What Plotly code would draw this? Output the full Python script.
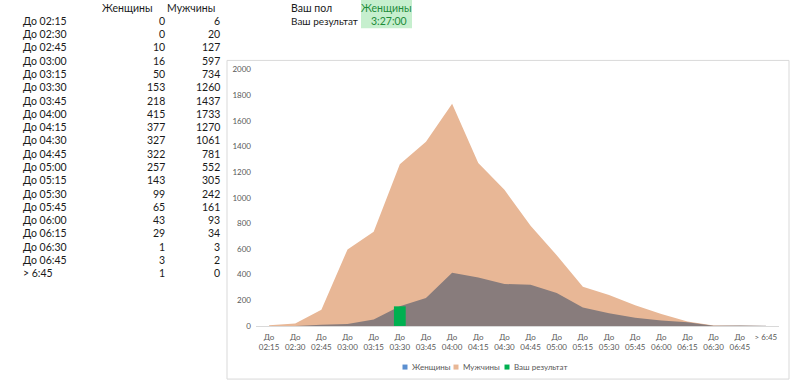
import plotly.graph_objects as go

categories = ["До 02:15", "До 02:30", "До 02:45", "До 03:00", "До 03:15", "До 03:30",
              "До 03:45", "До 04:00", "До 04:15", "До 04:30", "До 04:45", "До 05:00",
              "До 05:15", "До 05:30", "До 05:45", "До 06:00", "До 06:15", "До 06:30",
              "До 06:45", "> 6:45"]
women = [0, 0, 10, 16, 50, 153, 218, 415, 377, 327, 322, 257, 143, 99, 65, 43, 29, 1, 3, 1]
men = [6, 20, 127, 597, 734, 1260, 1437, 1733, 1270, 1061, 781, 552, 305, 242, 161, 93, 34, 3, 2, 0]
result_category = "До 03:30"
result_value = 153
your_gender = "Женщины"
your_result = "3:27:00"
legend_names = ["Женщины", "Мужчины", "Ваш результат"]

tick_text = [c.replace("До ", "До<br>") if c.startswith("До") else c for c in categories]

W, H = 800, 385
# empirical vertical correction for how the page is photographed
SY, BY = 0.972, 4.7
def px(p):
    return p / W
def py(p):
    return 1 - ((p - BY) / SY) / H

PEACH = "#E8B796"
GRAY = "#887C7C"
GREEN = "#00B050"
BLUE = "#5B8FD0"
TXT = "#595959"
FONT = "Lato, 'Open Sans', sans-serif"

fig = go.Figure()
fig.add_trace(go.Scatter(x=categories, y=men, mode="lines", fill="tozeroy",
                         line=dict(color=PEACH, width=0), fillcolor=PEACH,
                         showlegend=False, hoverinfo="skip", name="Мужчины"))
fig.add_trace(go.Scatter(x=categories, y=women, mode="lines", fill="tozeroy",
                         line=dict(color=GRAY, width=0), fillcolor=GRAY,
                         showlegend=False, hoverinfo="skip", name="Женщины"))
fig.add_trace(go.Bar(x=[result_category], y=[result_value], name="Ваш результат",
                     marker=dict(color=GREEN, line=dict(width=0)), width=0.45,
                     xaxis="x2", yaxis="y2", showlegend=False, hoverinfo="skip"))

ann = []
shapes = []
row0, dy = 20.5, 13.26
BLACK = "#1a1a1a"
ann.append(dict(x=px(127), y=py(7.5), text="Женщины", xanchor="center"))
ann.append(dict(x=px(191), y=py(7.5), text="Мужчины", xanchor="center"))
for i, c in enumerate(categories):
    yy = py(row0 + i * dy)
    ann.append(dict(x=px(21), y=yy, text=c, xanchor="left"))
    ann.append(dict(x=px(167), y=yy, text=str(women[i]), xanchor="right"))
    ann.append(dict(x=px(222), y=yy, text=str(men[i]), xanchor="right"))
ann.append(dict(x=px(289), y=py(7.5), text="Ваш пол", xanchor="left"))
ann.append(dict(x=px(289), y=py(21), text="Ваш результат", xanchor="left",
                font=dict(color=BLACK, size=10, family=FONT)))
ann.append(dict(x=px(386), y=py(7.5), text=your_gender, xanchor="center",
                font=dict(color="#1E8C3A", size=10.5, family=FONT)))
ann.append(dict(x=px(409), y=py(21), text=your_result, xanchor="right",
                font=dict(color="#1E8C3A", size=10.5, family=FONT)))
for a in ann:
    a.update(xref="paper", yref="paper", yanchor="middle", showarrow=False)
    a.setdefault("font", dict(color=BLACK, size=10.5, family=FONT))

# manual legend
leg_y = 366
leg_x = [405, 456, 507]
leg_cols = [BLUE, PEACH, GREEN]
for lx, name, col in zip(leg_x, legend_names, leg_cols):
    shapes.append(dict(type="rect", xref="paper", yref="paper",
                       x0=px(lx - 2.5), x1=px(lx + 2.5), y0=py(leg_y + 2.5), y1=py(leg_y - 2.5),
                       fillcolor=col, line=dict(width=0)))
    ann.append(dict(x=px(lx + 5), y=py(leg_y), text=name, xanchor="left", yanchor="middle",
                    xref="paper", yref="paper", showarrow=False,
                    font=dict(size=8, color=TXT, family=FONT)))

shapes.append(dict(type="rect", xref="paper", yref="paper", x0=px(361), x1=px(412),
                   y0=py(28), y1=py(-2), fillcolor="#C6EFCE", line=dict(width=0), layer="below"))
shapes.append(dict(type="rect", xref="paper", yref="paper", x0=px(227), x1=px(789),
                   y0=py(378), y1=py(60), line=dict(color="#D9D9D9", width=1), layer="below"))

xdom = [px(256), px(779)]
ydom = [py(325), py(69)]
fig.update_layout(
    width=W, height=H,
    margin=dict(l=0, r=0, t=0, b=0),
    paper_bgcolor="white", plot_bgcolor="white",
    font=dict(family=FONT, color=TXT),
    annotations=ann,
    shapes=shapes,
    showlegend=False,
    xaxis=dict(domain=xdom, type="category", categoryorder="array",
               categoryarray=categories, range=[-0.5, len(categories) - 0.5],
               tickvals=categories, ticktext=tick_text, tickangle=0,
               tickfont=dict(size=8, color=TXT), showgrid=False,
               showline=True, linecolor="#D9D9D9", ticks="", zeroline=False,
               ticklabelstandoff=3),
    yaxis=dict(domain=ydom, range=[0, 2000], dtick=200,
               tickfont=dict(size=8, color=TXT), showgrid=False, zeroline=False,
               showline=False, ticks="", ticklabelstandoff=4),
    xaxis2=dict(overlaying="x", type="category", categoryorder="array",
                categoryarray=categories, range=[-0.5, len(categories) - 0.5],
                visible=False, anchor="y2"),
    yaxis2=dict(overlaying="y", range=[0, 2000], visible=False, anchor="x2"),
    barmode="overlay",
)

fig.write_html("out.html", config={"displayModeBar": False},
               post_script="document.body.style.margin='0';document.body.style.overflow='hidden';")
